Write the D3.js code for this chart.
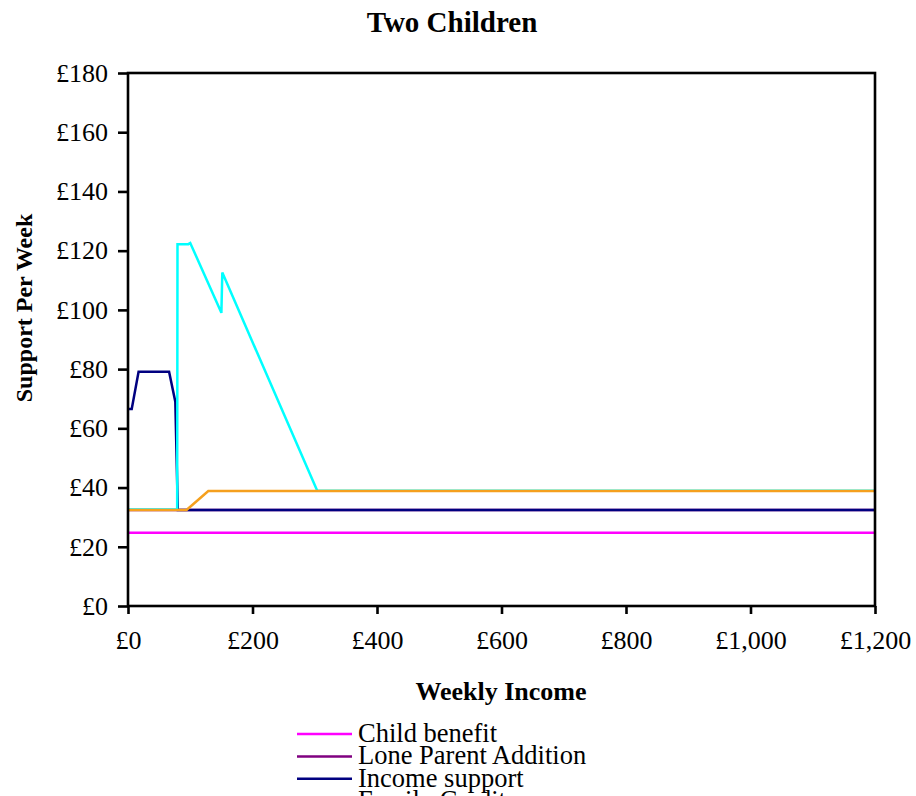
<html>
	<head>
	<title>Two Children</title>
	<script src="https://cdn.jsdelivr.net/npm/d3@7"></script>
	<style>
		body { margin: 0; background: white; }
		text { font-family: "Liberation Serif", "Times New Roman", serif; }
	</style>
	</head>

	<body>
		<div id="svg"></div>

		<script type="text/javascript">
/* series names, in legend order */
var seriesNames = ["Child benefit", "Lone Parent Addition", "Income support", "Family Credit", "Maximum Support"];
var seriesColors = ["#ff00ff", "#800080", "#000080", "#00ffff", "#f5a01e"];

/* weekly income (x) and support per week (y) for each series */
var childBenefitIncome = [0, 1200];
var childBenefitValue  = [24.7, 24.7];

var loneParentIncome = [0, 1200];
var loneParentValue  = [32.4, 32.4];

var incomeSupportIncome = [0, 6, 17, 66, 76, 80, 1200];
var incomeSupportValue  = [66.5, 66.5, 79.1, 79.1, 69.0, 32.4, 32.4];

var familyCreditIncome = [0, 79, 79.5, 97, 100, 150, 151.5, 304, 1200];
var familyCreditValue  = [32.6, 32.6, 122.2, 122.2, 122.6, 99.0, 112.6, 38.9, 38.9];

var maxSupportIncome = [0, 94, 129, 1200];
var maxSupportValue  = [32.4, 32.4, 38.8, 38.8];

var xTicks = [0, 200, 400, 600, 800, 1000, 1200];
var yTicks = [0, 20, 40, 60, 80, 100, 120, 140, 160, 180];

var chart = {
	"width": 916,
	"height": 796,
	"left": 128,
	"right": 875,
	"top": 73,
	"bottom": 606,
	"frame_width": 2.6,
	"line_width": 2.5
};

function pairs(xs, ys) {
	return xs.map(function(x, i) { return { "x": x, "y": ys[i] }; });
}

var series = [
	pairs(childBenefitIncome, childBenefitValue),
	pairs(loneParentIncome, loneParentValue),
	pairs(incomeSupportIncome, incomeSupportValue),
	pairs(familyCreditIncome, familyCreditValue),
	pairs(maxSupportIncome, maxSupportValue)
];

var x = d3.scaleLinear().domain([0, 1200]).range([chart.left, chart.right]);
var y = d3.scaleLinear().domain([0, 180]).range([chart.bottom, chart.top]);
var money = d3.format(",");

var svg = d3.select("#svg").append("svg")
			.attr("width", chart.width)
			.attr("height", chart.height);

/* title */
svg.append("text")
			.attr("x", 452)
			.attr("y", 32)
			.attr("text-anchor", "middle")
			.style("font-size", "29px")
			.style("font-weight", "bold")
			.text("Two Children");

/* lines */
var line = d3.line()
			.x(function(d) { return x(d.x); })
			.y(function(d) { return y(d.y); });

svg.selectAll(".series")
			.data(series)
			.enter()
			.append("path")
			.attr("class", "series")
			.attr("d", line)
			.style("fill", "none")
			.style("stroke", function(d, i) { return seriesColors[i]; })
			.style("stroke-width", chart.line_width)
			.style("stroke-linejoin", "miter");

/* plot frame */
svg.append("rect")
			.attr("x", chart.left)
			.attr("y", chart.top)
			.attr("width", chart.right - chart.left)
			.attr("height", chart.bottom - chart.top)
			.style("fill", "none")
			.style("stroke", "black")
			.style("stroke-width", chart.frame_width);

/* axes */
var yAxis = svg.append("g")
			.attr("transform", "translate(" + chart.left + ",0)")
			.call(d3.axisLeft(y).tickValues(yTicks).tickSize(10).tickPadding(10)
				.tickFormat(function(d) { return "£" + money(d); }));

var xAxis = svg.append("g")
			.attr("transform", "translate(0," + chart.bottom + ")")
			.call(d3.axisBottom(x).tickValues(xTicks).tickSize(8).tickPadding(17)
				.tickFormat(function(d) { return "£" + money(d); }));

svg.selectAll(".domain").remove();
svg.selectAll(".tick line").style("stroke", "black").style("stroke-width", chart.frame_width);
svg.selectAll(".tick text")
			.style("font-family", "'Liberation Serif', 'Times New Roman', serif")
			.style("font-size", "26px")
			.style("fill", "black");

/* axis titles */
svg.append("text")
			.attr("x", 501)
			.attr("y", 700)
			.attr("text-anchor", "middle")
			.style("font-size", "26px")
			.style("font-weight", "bold")
			.text("Weekly Income");

svg.append("text")
			.attr("transform", "translate(32,308) rotate(-90)")
			.attr("text-anchor", "middle")
			.style("font-size", "24px")
			.style("font-weight", "bold")
			.text("Support Per Week");

/* legend, runs off the bottom of the picture like the original */
var legend = svg.selectAll(".legend")
			.data(seriesNames)
			.enter()
			.append("g")
			.attr("class", "legend")
			.attr("transform", function(d, i) { return "translate(297," + (734 + i * 22.4) + ")"; });

legend.append("line")
			.attr("x1", 0)
			.attr("x2", 55)
			.style("stroke", function(d, i) { return seriesColors[i]; })
			.style("stroke-width", chart.line_width);

legend.append("text")
			.attr("x", 61)
			.attr("y", 8)
			.style("font-size", "26.5px")
			.text(function(d) { return d; });

		</script>

	</body>

</html>
